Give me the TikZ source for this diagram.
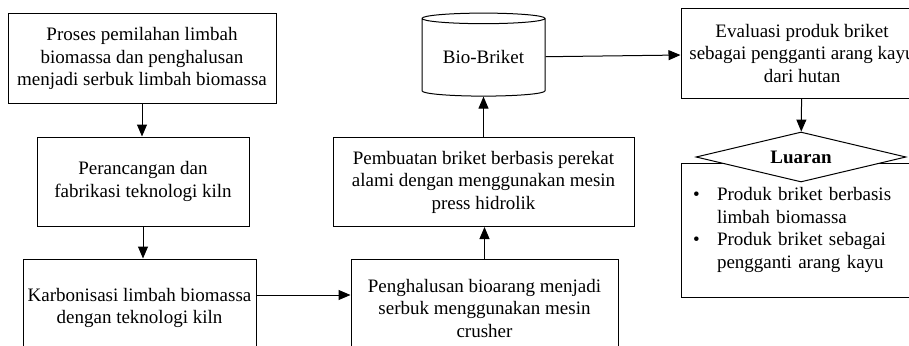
\documentclass[tikz,border=0pt]{standalone}
\usepackage{fontspec}
\setmainfont{Liberation Serif}
\usetikzlibrary{shapes.geometric,arrows.meta,calc}

\begin{document}
\begin{tikzpicture}[x=1pt, y=-1pt, line width=1pt,
    box/.style={draw, align=center, inner sep=0pt},
    panah/.style={-{Triangle[length=12pt,width=10pt]}},
    font=\fontsize{19}{22.5}\selectfont]
  \clip (0,0) rectangle (909,345);
  \useasboundingbox (0,0) rectangle (909,345);
  \node[box, minimum width=268, minimum height=89] (pilah) at (142,58.5)
    {Proses pemilahan limbah\\biomassa dan penghalusan\\menjadi serbuk limbah biomassa};
  \node[box, minimum width=212, minimum height=89] (kiln) at (143,181.5)
    {Perancangan dan\\fabrikasi teknologi kiln};
  \node[box, minimum width=233, minimum height=98] (karbon) at (139.5,308)
    {Karbonisasi limbah biomassa\\dengan teknologi kiln};
  \node[box, minimum width=267, minimum height=98] (halus) at (484.5,308)
    {Penghalusan bioarang menjadi\\serbuk menggunakan mesin\\crusher};
  \node[box, minimum width=301, minimum height=89] (cetak) at (483.5,182)
    {Pembuatan briket berbasis perekat\\alami dengan menggunakan mesin\\press hidrolik};
  \node[cylinder, draw, shape border rotate=90, aspect=0.13,
        minimum width=123, minimum height=83, inner sep=0pt] (bio) at (483.5,57.5) {Bio-Briket};
  \node[box, minimum width=242, minimum height=89] (evaluasi) at (802,53.5)
    {Evaluasi produk briket\\sebagai pengganti arang kayu\\dari hutan};
  \node[draw, text width=218, inner xsep=12pt, minimum height=134, align=left] (hasil) at (802,230)
    {\begin{tabular}{@{}p{24pt}@{}l@{}}
      \textbullet & Produk briket berbasis\\
                  & limbah biomassa\\
      \textbullet & Produk briket sebagai\\
                  & pengganti arang kayu
    \end{tabular}};
  \node[diamond, draw, fill=white, aspect=4.2, minimum width=210, minimum height=50,
        inner sep=0pt, font=\fontsize{19}{22.5}\selectfont\bfseries] (luaran) at (801,157) {Luaran};

  \draw[panah] (pilah.south) -- (pilah.south |- kiln.north);
  \draw[panah] (kiln.south) -- (kiln.south |- karbon.north);
  \draw[panah] ($(karbon.east)+(0,-13)$) -- ($(halus.west)+(0,-13)$);
  \draw[panah] (halus.north) -- (halus.north |- cetak.south);
  \draw[panah] (cetak.north) -- (bio.south);
  \draw[panah] (bio) -- (evaluasi);
  \draw[panah] (evaluasi) -- (luaran);
\end{tikzpicture}
\end{document}
